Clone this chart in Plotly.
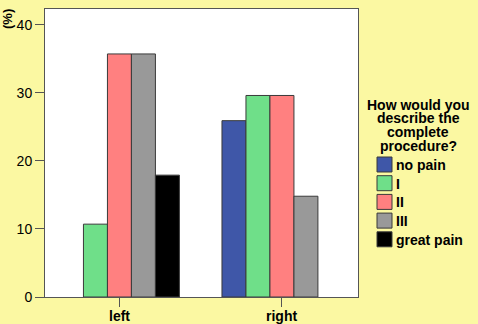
import plotly.graph_objects as go

# Share of patients (%) per side, by how the complete procedure was described
sides = ["left", "right"]
categories = ["no pain", "I", "II", "III", "great pain"]
values = {
    "no pain":    [None, 25.9],
    "I":          [10.7, 29.6],
    "II":         [35.7, 29.6],
    "III":        [35.7, 14.8],
    "great pain": [17.9, None],
}
colors = ["#3F57A8", "#6FDF89", "#FF8080", "#999999", "#000000"]
y_ticks = [0, 10, 20, 30, 40]

W, H = 478, 324
ML, MR, MT, MB = 45, 120, 9, 27
PW, PH = W - ML - MR, H - MT - MB

FONT = "Liberation Sans, Arial, sans-serif"
BG = "#FBF8A2"


def px(x):
    return (x - ML) / PW


def py(y):
    return 1 - (y - MT) / PH


fig = go.Figure()
for name, col in zip(categories, colors):
    fig.add_trace(go.Bar(
        name=name, x=sides, y=values[name],
        marker=dict(color=col, line=dict(color="#3a3a3a", width=1)),
        showlegend=False,
    ))

annotations = []

# Category labels under the x axis, positioned on the category scale
for side in sides:
    annotations.append(dict(
        x=side, y=py(316), xref="x", yref="paper",
        text=f"<b>{side}</b>", showarrow=False, xanchor="center", yanchor="middle",
        font=dict(family=FONT, size=14, color="black"),
    ))

# Hand-placed legend to the right of the plot
title_lines = ["How would you", "describe the", "complete", "procedure?"]
for i, line in enumerate(title_lines):
    annotations.append(dict(
        x=px(418), y=py(104.5 + i * 13.8), xref="paper", yref="paper",
        text=f"<b>{line}</b>", showarrow=False, xanchor="center", yanchor="middle",
        font=dict(family=FONT, size=14, color="black"),
    ))
shapes = []
for i, (name, col) in enumerate(zip(categories, colors)):
    top = 157 + i * 18.7
    shapes.append(dict(
        type="rect", xref="paper", yref="paper",
        x0=px(377), x1=px(392), y0=py(top), y1=py(top + 15),
        fillcolor=col, line=dict(color="#3a3a3a", width=1),
    ))
    annotations.append(dict(
        x=px(394), y=py(top + 8), xref="paper", yref="paper",
        text=f"<b>{name}</b>", showarrow=False, xanchor="left", yanchor="middle",
        font=dict(family=FONT, size=14, color="black"),
    ))

# Axis unit label in the top-left corner
annotations.append(dict(
    x=px(8), y=py(19), xref="paper", yref="paper", text="<b>(%)</b>",
    showarrow=False, textangle=-90, xanchor="center", yanchor="middle",
    font=dict(family=FONT, size=13, color="black"),
))

fig.update_layout(
    width=W, height=H,
    margin=dict(l=ML, r=MR, t=MT, b=MB, pad=0, autoexpand=False),
    paper_bgcolor=BG, plot_bgcolor="white",
    barmode="group", bargap=0.262, bargroupgap=0,
    annotations=annotations, shapes=shapes,
    font=dict(family=FONT, size=14, color="black"),
)
fig.update_xaxes(
    range=[-0.458, 1.468], showgrid=False, zeroline=False, automargin=False,
    showline=True, linecolor="#555555", linewidth=1, mirror=True,
    ticks="outside", ticklen=9, tickcolor="#555555", showticklabels=False,
)
fig.update_yaxes(
    range=[0, 42.3], tickvals=y_ticks, showgrid=False, zeroline=False, automargin=False,
    showline=True, linecolor="#555555", linewidth=1, mirror=True,
    ticks="outside", ticklen=9, tickcolor="#555555",
    tickfont=dict(family=FONT, size=14, color="black"),
    tickprefix="<b>", ticksuffix="</b>",
)

fig.write_html("out.html")
